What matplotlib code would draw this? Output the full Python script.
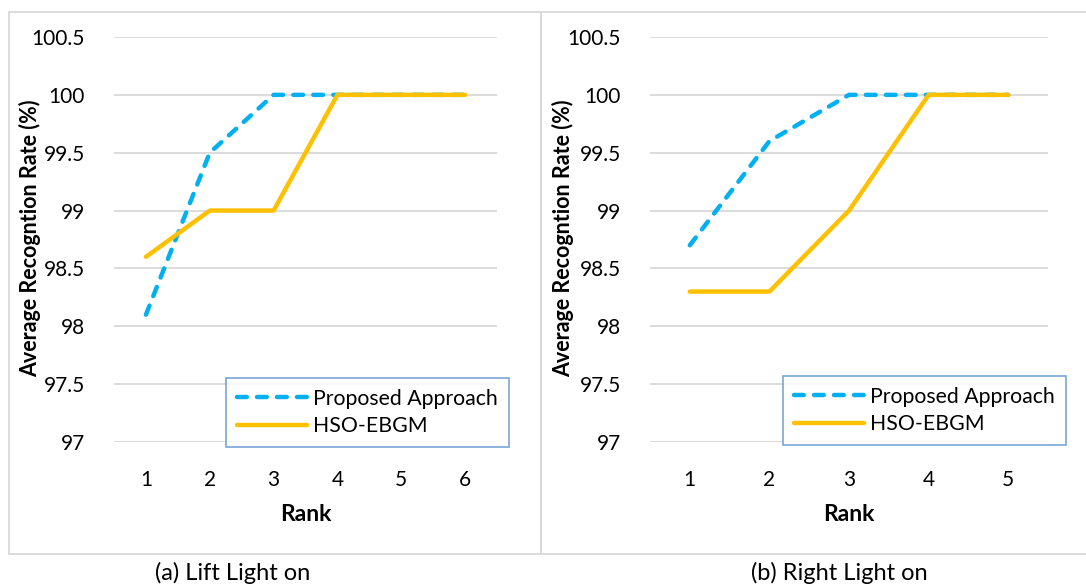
import matplotlib
matplotlib.use("Agg")
import matplotlib.pyplot as plt
from matplotlib.patches import Rectangle

plt.rcParams["font.family"] = ["Lato", "DejaVu Sans"]

# ── data ──────────────────────────────────────────────────────────────────────
ranks_left = [1, 2, 3, 4, 5, 6]
proposed_left = [98.1, 99.5, 100, 100, 100, 100]
hso_left = [98.6, 99.0, 99.0, 100, 100, 100]

ranks_right = [1, 2, 3, 4, 5]
proposed_right = [98.7, 99.6, 100, 100, 100]
hso_right = [98.3, 98.3, 99.0, 100, 100]

y_ticks = [97, 97.5, 98, 98.5, 99, 99.5, 100, 100.5]
y_tick_labels = ["97", "97.5", "98", "98.5", "99", "99.5", "100", "100.5"]

BLUE = "#00B0F0"
GOLD = "#FFC000"
GRID = "#D9D9D9"
FRAME = "#5B8FD0"

W, H = 1086, 586
fig = plt.figure(figsize=(W / 100, H / 100), dpi=100)


def px(x0, y0, x1, y1):
    """pixel box (top-left origin) -> figure fraction rect"""
    return [x0 / W, 1 - y1 / H, (x1 - x0) / W, (y1 - y0) / H]


def panel(ax_box, ranks, proposed, hso, legend_xy, caption, caption_x, frame_box):
    # outer chart frame
    fx0, fy0, fx1, fy1 = frame_box
    fig.patches.append(Rectangle((fx0 / W, 1 - fy1 / H), (fx1 - fx0) / W, (fy1 - fy0) / H,
                                 transform=fig.transFigure, fill=False,
                                 edgecolor=GRID, linewidth=1.3, zorder=0))

    ax = fig.add_axes(px(*ax_box))
    x = list(range(len(ranks)))
    ax.plot(x, proposed, color=BLUE, linewidth=3.2,
            linestyle=(0, (2.2, 2.3)), dash_capstyle="round",
            solid_capstyle="round", label="Proposed Approach", zorder=3)
    ax.plot(x, hso, color=GOLD, linewidth=3.2, solid_capstyle="round",
            solid_joinstyle="round", label="HSO-EBGM", zorder=4)

    ax.set_xlim(-0.5, len(ranks) - 0.5)
    ax.set_ylim(97, 100.5)
    ax.set_yticks(y_ticks)
    ax.set_yticklabels(y_tick_labels)
    ax.set_xticks(x)
    ax.set_xticklabels([str(r) for r in ranks])
    ax.tick_params(axis="both", length=0, labelsize=15, colors="#000000")
    ax.tick_params(axis="y", pad=21)
    ax.tick_params(axis="x", pad=20)
    ax.grid(axis="y", color=GRID, linewidth=1.3, zorder=0)
    ax.set_axisbelow(True)
    for s in ax.spines.values():
        s.set_visible(False)

    ax.set_xlabel("Rank", fontsize=16.5, fontweight="bold", labelpad=10)

    lx, ly = legend_xy
    leg = ax.legend(loc="upper left", bbox_to_anchor=(lx / W, 1 - ly / H),
                    bbox_transform=fig.transFigure, fontsize=15.3,
                    frameon=True, fancybox=False, borderaxespad=0,
                    handlelength=3.3, handletextpad=0.3, labelspacing=0.35,
                    borderpad=0.5)
    leg.get_frame().set_edgecolor(FRAME)
    leg.get_frame().set_linewidth(1.2)

    fig.text(caption_x / W, 1 - 573 / H, caption, fontsize=17,
             ha="center", va="center")
    return ax


panel((114, 37, 497, 442), ranks_left, proposed_left, hso_left,
      (226, 378), "(a) Lift Light on", 233, (9, 12, 541, 554))
panel((650, 37, 1048, 442), ranks_right, proposed_right, hso_right,
      (783, 376), "(b) Right Light on", 839, (541, 12, 1090, 554))

for xc in (30, 563):
    fig.text(xc / W, 1 - 238 / H, "Average Recogntion Rate (%)", rotation=90,
             fontsize=15.5, fontweight="bold", ha="center", va="center")

fig.savefig("out.png", dpi=100, facecolor="white")
